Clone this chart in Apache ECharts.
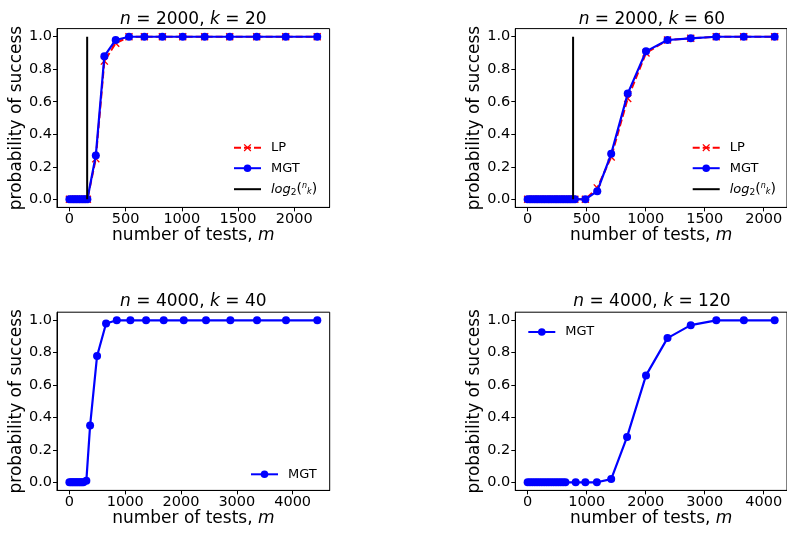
<!DOCTYPE html>
<html>
<head>
<meta charset="utf-8">
<script src="https://cdn.jsdelivr.net/npm/echarts@6/dist/echarts.min.js"></script>
<style>
  html, body { margin: 0; padding: 0; background: #fff; }
  #chart { width: 787px; height: 533px; }
</style>
</head>
<body>
<div id="chart"></div>
<script>
// ---- Data ----------------------------------------------------------------
// Panel A: n = 2000, k = 20
const testsA = [0, 20, 40, 60, 80, 100, 120, 140, 160, 235, 311, 412, 530, 667, 827, 1008, 1203, 1426, 1666, 1924, 2204];
const lpA    = [0, 0, 0, 0, 0, 0, 0, 0, 0, 0.25, 0.85, 0.96, 1, 1, 1, 1, 1, 1, 1, 1, 1];
const mgtA   = [0, 0, 0, 0, 0, 0, 0, 0, 0, 0.27, 0.88, 0.98, 1, 1, 1, 1, 1, 1, 1, 1, 1];
const boundA = 158;

// Panel B: n = 2000, k = 60
const testsB = [0, 20, 40, 60, 80, 100, 120, 140, 160, 180, 200, 220, 240, 260, 280, 300, 320, 340, 360, 380, 400, 489, 590, 708, 848, 1003, 1185, 1382, 1598, 1831, 2093];
const lpB    = [0, 0, 0, 0, 0, 0, 0, 0, 0, 0, 0, 0, 0, 0, 0, 0, 0, 0, 0, 0, 0, 0, 0.07, 0.26, 0.62, 0.90, 0.98, 0.99, 1, 1, 1];
const mgtB   = [0, 0, 0, 0, 0, 0, 0, 0, 0, 0, 0, 0, 0, 0, 0, 0, 0, 0, 0, 0, 0, 0, 0.05, 0.28, 0.65, 0.91, 0.98, 0.99, 1, 1, 1];
const boundB = 385;

// Panel C: n = 4000, k = 40
const testsC = [0, 25, 50, 75, 100, 125, 150, 175, 200, 225, 250, 304, 371, 496, 657, 849, 1093, 1374, 1690, 2049, 2448, 2884, 3362, 3881, 4442];
const mgtC   = [0, 0, 0, 0, 0, 0, 0, 0, 0, 0, 0, 0.01, 0.35, 0.78, 0.98, 1, 1, 1, 1, 1, 1, 1, 1, 1, 1];

// Panel D: n = 4000, k = 120
const testsD = [0, 40, 80, 120, 160, 200, 240, 280, 320, 360, 400, 440, 480, 520, 560, 600, 640, 814, 978, 1173, 1416, 1685, 2006, 2370, 2764, 3197, 3664, 4186];
const mgtD   = [0, 0, 0, 0, 0, 0, 0, 0, 0, 0, 0, 0, 0, 0, 0, 0, 0, 0, 0, 0, 0.02, 0.28, 0.66, 0.89, 0.97, 1, 1, 1];

// Vertical reference segment spans probability 0 .. 1
const boundY = [0, 1];

// Tick labels
const xTicksTop    = [0, 500, 1000, 1500, 2000];
const xTicksBottom = [0, 1000, 2000, 3000, 4000];
const yTicks       = [0, 0.2, 0.4, 0.6, 0.8, 1.0];

// ---- Styling helpers -------------------------------------------------------
const FONT = '"DejaVu Sans", sans-serif';
const BLUE = '#0000ff';
const RED = '#ff0000';
const CROSS = 'path://M0,1.2L1.2,0L5,3.8L8.8,0L10,1.2L6.2,5L10,8.8L8.8,10L5,6.2L1.2,10L0,8.8L3.8,5Z';
const TICK_FS = 14.5;

const grids = [
  { left: 57,    top: 28.6,  width: 272.6, height: 178.8 },
  { left: 515.3, top: 28.6,  width: 273.2, height: 178.8 },
  { left: 57,    top: 312.2, width: 272.7, height: 178.2 },
  { left: 515.3, top: 312.2, width: 273.2, height: 178.2 }
].map(g => Object.assign(g, { show: true, borderColor: '#000', borderWidth: 1, backgroundColor: 'transparent' }));

function padded(xs) {
  const lo = Math.min(...xs), hi = Math.max(...xs), p = (hi - lo) * 0.05;
  return [lo - p, hi + p];
}

function xAxisFor(i, xs, ticks) {
  const r = padded(xs);
  return {
    type: 'value', gridIndex: i, min: r[0], max: r[1],
    splitLine: { show: false },
    axisLine: { show: true, onZero: false, lineStyle: { color: '#000', width: 1 } },
    axisTick: { show: true, length: 4, customValues: ticks, lineStyle: { color: '#000', width: 1 } },
    axisLabel: { customValues: ticks, margin: 4, color: '#000', fontSize: TICK_FS, fontFamily: FONT,
                 formatter: v => String(v) },
    name: 'number of tests, {i|m}', nameLocation: 'middle', nameGap: 17,
    nameTextStyle: {
      color: '#000', fontSize: 17, fontFamily: FONT,
      rich: { i: { fontStyle: 'italic', fontSize: 17, fontFamily: FONT, color: '#000' } }
    }
  };
}

function yAxisFor(i) {
  return {
    type: 'value', gridIndex: i, min: -0.05, max: 1.05,
    splitLine: { show: false },
    axisLine: { show: true, onZero: false, lineStyle: { color: '#000', width: 1 } },
    axisTick: { show: true, length: 4, customValues: yTicks, lineStyle: { color: '#000', width: 1 } },
    axisLabel: { customValues: yTicks, margin: 5, color: '#000', fontSize: TICK_FS, fontFamily: FONT,
                 formatter: v => v.toFixed(1) },
    name: 'probability of success', nameLocation: 'middle', nameGap: 28,
    nameTextStyle: { color: '#000', fontSize: 17, fontFamily: FONT }
  };
}

function pairs(xs, ys) { return xs.map((x, j) => [x, ys[j]]); }

function lpSeries(i, xs, ys) {
  return {
    type: 'line', name: 'LP', xAxisIndex: i, yAxisIndex: i, data: pairs(xs, ys),
    symbol: CROSS, symbolSize: 8, showSymbol: true,
    lineStyle: { color: RED, width: 2, type: [7, 3] },
    itemStyle: { color: RED }, z: 2
  };
}
function mgtSeries(i, xs, ys) {
  return {
    type: 'line', name: 'MGT', xAxisIndex: i, yAxisIndex: i, data: pairs(xs, ys),
    symbol: 'circle', symbolSize: 8, showSymbol: true,
    lineStyle: { color: BLUE, width: 2.2 },
    itemStyle: { color: BLUE }, z: 3
  };
}
function boundSeries(i, m) {
  return {
    type: 'line', name: 'bound', xAxisIndex: i, yAxisIndex: i,
    data: boundY.map(y => [m, y]),
    symbol: 'none',
    lineStyle: { color: '#000', width: 2 }, itemStyle: { color: '#000' }, z: 4
  };
}

const legendRich = {
  it:  { fontStyle: 'italic', fontSize: 13, fontFamily: FONT, color: '#000' },
  sub: { fontSize: 9, fontFamily: FONT, color: '#000', padding: [6, 0, 0, 0] },
  p:   { fontSize: 14, fontFamily: FONT, color: '#000' },
  sn:  { fontStyle: 'italic', fontSize: 8, fontFamily: FONT, color: '#000', padding: [0, 0, 6, 0] },
  sk:  { fontStyle: 'italic', fontSize: 8, fontFamily: FONT, color: '#000', padding: [6, 0, 0, 0] }
};
function legendFor(names, left, centerY) {
  const h = 9.5;
  return {
    data: names.map(n => n === 'bound' ? { name: n, itemStyle: { opacity: 0 } } : { name: n }),
    orient: 'vertical', left: left, top: centerY - 4.5, padding: 0,
    itemWidth: 27, itemHeight: h, itemGap: 7.5, selectedMode: false,
    textStyle: { color: '#000', fontSize: 13, fontFamily: FONT, padding: [0, 0, 0, 5], rich: legendRich },
    formatter: n => n === 'bound' ? '{it|log}{sub|2}{p|(}{sn|n}{sk|k}{p|)}' : n
  };
}

const titleRich = { i: { fontStyle: 'italic', fontSize: 17, fontFamily: FONT, fill: '#000' } };
function titleText(cx, cy, n, k) {
  return {
    type: 'text', x: cx, y: cy, silent: true,
    style: {
      text: '{i|n} = ' + n + ', {i|k} = ' + k,
      fontSize: 17, fontFamily: FONT, fill: '#000',
      align: 'center', verticalAlign: 'middle', rich: titleRich
    }
  };
}

const option = {
  animation: false,
  backgroundColor: '#fff',
  grid: grids,
  xAxis: [xAxisFor(0, testsA, xTicksTop), xAxisFor(1, testsB, xTicksTop),
          xAxisFor(2, testsC, xTicksBottom), xAxisFor(3, testsD, xTicksBottom)],
  yAxis: [yAxisFor(0), yAxisFor(1), yAxisFor(2), yAxisFor(3)],
  legend: [
    legendFor(['LP', 'MGT', 'bound'], 233, 145.7),
    legendFor(['LP', 'MGT', 'bound'], 691.7, 145.7),
    legendFor(['MGT'], 250, 472.3),
    legendFor(['MGT'], 527.3, 330)
  ],
  graphic: [
    titleText(193.3, 20, 2000, 20),
    titleText(651.9, 20, 2000, 60),
    titleText(193.3, 302, 4000, 40),
    titleText(651.9, 302, 4000, 120)
  ],
  series: [
    lpSeries(0, testsA, lpA), mgtSeries(0, testsA, mgtA), boundSeries(0, boundA),
    lpSeries(1, testsB, lpB), mgtSeries(1, testsB, mgtB), boundSeries(1, boundB),
    mgtSeries(2, testsC, mgtC),
    mgtSeries(3, testsD, mgtD)
  ]
};

const chart = echarts.init(document.getElementById('chart'));
chart.setOption(option);
</script>
</body>
</html>
